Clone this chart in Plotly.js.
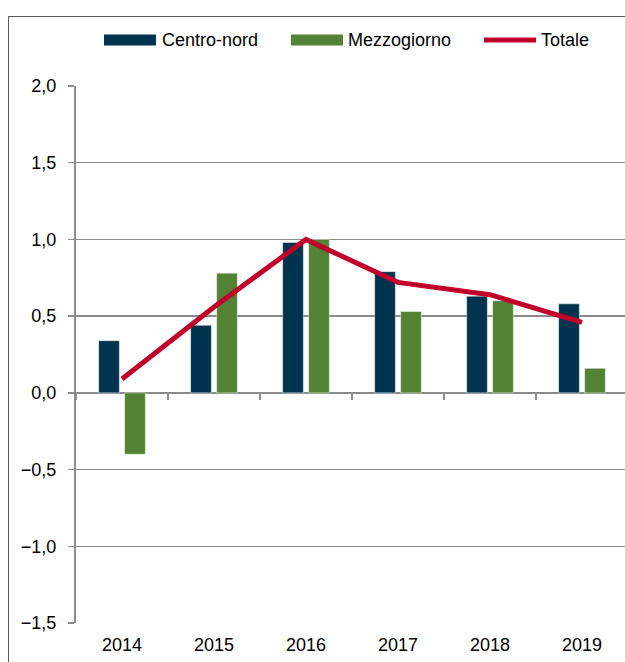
<!DOCTYPE html>
<html>
<head>
<meta charset="utf-8">
<script src="https://cdn.plot.ly/plotly-3.0.1.min.js"></script>
<style>
  html, body { margin: 0; padding: 0; width: 625px; height: 662px; overflow: hidden; background: #fff; }
  #frame { position: absolute; left: 8px; top: 16px; width: 700px; height: 700px;
           border-left: 1.5px solid #5a5a5a; border-top: 1.5px solid #5a5a5a; pointer-events: none; }
  #chart { position: absolute; left: 0; top: 0; }
</style>
</head>
<body>
<div id="frame"></div>
<div id="chart"></div>
<script>
// ---- data ----
const years = ['2014', '2015', '2016', '2017', '2018', '2019'];
const centroNord = [0.34, 0.44, 0.98, 0.79, 0.63, 0.58];
const mezzogiorno = [-0.40, 0.78, 1.00, 0.53, 0.60, 0.16];
const totale = [0.09, 0.56, 1.00, 0.72, 0.64, 0.46];
const seriesNames = ['Centro-nord', 'Mezzogiorno', 'Totale'];
const yTicks = [-1.5, -1.0, -0.5, 0.0, 0.5, 1.0, 1.5, 2.0];

// ---- style ----
const NAVY = '#00334E', GREEN = '#548235', RED = '#C0002A', GRID = '#8c8c8c';
const FONT = 'Liberation Sans, Arial, sans-serif';

const traces = [
  { type: 'bar', name: seriesNames[0], x: years, y: centroNord,
    marker: { color: NAVY, line: { color: 'rgba(255,255,255,0.55)', width: 0.8 } }, xaxis: 'x', yaxis: 'y' },
  { type: 'bar', name: seriesNames[1], x: years, y: mezzogiorno,
    marker: { color: GREEN, line: { color: 'rgba(255,255,255,0.55)', width: 0.8 } }, xaxis: 'x', yaxis: 'y' },
  { type: 'scatter', mode: 'lines', name: seriesNames[2], x: years, y: totale,
    line: { color: RED, width: 5 }, xaxis: 'x', yaxis: 'y' }
];

// plot area in pixels: x 76..628, y 86..623
const L = 76, R = 628, T = 86, B = 623;
const W = 640, H = 662;
const px = v => (v - L) / (R - L);
const py = v => (B - v) / (B - T);
const yMin = -1.5, yMax = 2.0;
const zeroPos = (0 - yMin) / (yMax - yMin);

const legendItems = [
  { kind: 'bar', color: NAVY, x0: 104, x1: 156, tx: 160, text: seriesNames[0] },
  { kind: 'bar', color: GREEN, x0: 291, x1: 343, tx: 346, text: seriesNames[1] },
  { kind: 'line', color: RED, x0: 484, x1: 536, tx: 539, text: seriesNames[2] }
];
const legendY = 40;
const shapes = [];
const annotations = [];
legendItems.forEach(it => {
  if (it.kind === 'bar') {
    shapes.push({ type: 'rect', xref: 'paper', yref: 'paper',
      x0: px(it.x0), x1: px(it.x1), y0: py(legendY + 5.5), y1: py(legendY - 5.5),
      fillcolor: it.color, line: { width: 0 } });
  } else {
    shapes.push({ type: 'line', xref: 'paper', yref: 'paper',
      x0: px(it.x0), x1: px(it.x1), y0: py(legendY), y1: py(legendY),
      line: { color: it.color, width: 5 } });
  }
  annotations.push({ xref: 'paper', yref: 'paper', x: px(it.tx), y: py(legendY),
    xanchor: 'left', yanchor: 'middle', showarrow: false, text: it.text,
    font: { family: FONT, size: 18, color: '#000' } });
});

const layout = {
  width: W, height: H,
  margin: { l: L, r: W - R, t: T, b: H - B, pad: 0 },
  paper_bgcolor: 'rgba(0,0,0,0)', plot_bgcolor: 'rgba(0,0,0,0)',
  separators: ',.',
  showlegend: false,
  barmode: 'group', bargap: 0.435, bargroupgap: 0.204,
  font: { family: FONT, size: 18, color: '#000' },
  xaxis: {
    type: 'category', categoryorder: 'array', categoryarray: years,
    range: [-0.5, 5.5], showgrid: false, showline: false, zeroline: false,
    ticks: '', ticklabelstandoff: 9,
    tickfont: { family: FONT, size: 18, color: '#000' }, fixedrange: true
  },
  xaxis2: {
    type: 'category', categoryorder: 'array', categoryarray: years,
    overlaying: 'x', anchor: 'free', position: zeroPos, side: 'bottom',
    range: [-0.5, 5.5], showgrid: false, showline: false, zeroline: false,
    ticks: 'outside', tickson: 'boundaries', ticklen: 6, tickwidth: 1.5, tickcolor: GRID,
    showticklabels: false, tickvals: years
  },
  yaxis: {
    range: [yMin, yMax], tickvals: yTicks, tickformat: '.1f',
    showgrid: true, gridcolor: GRID, gridwidth: 1.5,
    zeroline: true, zerolinecolor: GRID, zerolinewidth: 2,
    showline: true, linecolor: GRID, linewidth: 2,
    ticks: 'outside', ticklen: 6, tickwidth: 1.5, tickcolor: GRID,
    ticklabelstandoff: 8,
    tickfont: { family: FONT, size: 18, color: '#000' }, fixedrange: true
  },
  shapes: shapes,
  annotations: annotations
};

// dummy invisible trace so xaxis2 is drawn
traces.push({ type: 'scatter', mode: 'markers', x: years, y: years.map(() => null),
  xaxis: 'x2', yaxis: 'y', hoverinfo: 'skip', showlegend: false, marker: { opacity: 0 } });

Plotly.newPlot('chart', traces, layout, { displayModeBar: false, staticPlot: true });
</script>
</body>
</html>
